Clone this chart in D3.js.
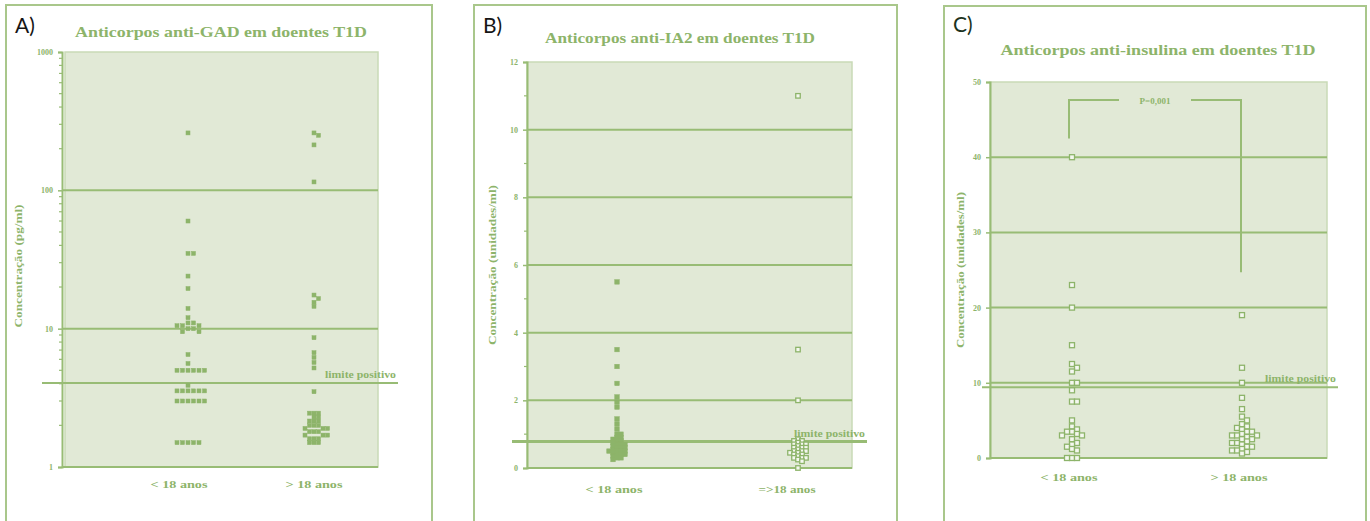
<!DOCTYPE html>
<html>
<head>
<meta charset="utf-8">
<script src="https://cdn.jsdelivr.net/npm/d3@7/dist/d3.min.js"></script>
<style>
  body { margin: 0; background: #fff; }
  svg text { font-family: "Liberation Serif", "DejaVu Serif", serif; font-weight: bold; fill: #8db46a; }
  svg text.letter { font-family: "Lato", "Open Sans", sans-serif; font-weight: normal; font-size: 21px; fill: #151515; }
</style>
</head>
<body>
<svg id="chart" width="1370" height="521"></svg>
<script>
// ---- values ----
const groups = ["< 18 anos", "> 18 anos"];
const groupsIA2 = ["< 18 anos", "=>18 anos"];

// A) anti-GAD (log scale)
const gadUnder18 = [260, 60, 35, 35, 24, 19.5, 14, 12, 11, 11, 10.5, 10.5, 10.5, 10, 10, 9.5, 9.5,
  6.5, 5.6, 5, 5, 5, 5, 5, 5, 3.9, 3.55, 3.55, 3.55, 3.55, 3.55, 3.55, 3.0, 3.0, 3.0, 3.0, 3.0, 3.0,
  1.5, 1.5, 1.5, 1.5, 1.5];
const gadOver18 = [260, 250, 213, 115, 17.5, 16.5, 15.5, 14.5, 8.6, 6.7, 6.2, 5.7, 5.2, 3.5,
  2.45, 2.45, 2.45, 2.3, 2.3, 2.15, 2.15, 2.15, 2.0, 2.0, 2.0, 1.9, 1.9, 1.9, 1.8, 1.8, 1.8,
  1.7, 1.7, 1.7, 1.6, 1.6, 1.6, 1.5, 1.5, 1.5];
const gadTicks = [1, 10, 100, 1000];
const gadLimit = 4.05;

// B) anti-IA2
const ia2Under18 = [5.5, 3.5, 3.0, 2.5, 2.1, 1.95, 1.8, 1.45, 1.3, 1.15, 1.0, 1.0, 0.9, 0.9, 0.85,
  0.8, 0.8, 0.75, 0.7, 0.7, 0.7, 0.65, 0.6, 0.6, 0.6, 0.55, 0.5, 0.5, 0.5, 0.5, 0.45, 0.4, 0.4,
  0.4, 0.35, 0.3, 0.3, 0.25];
const ia2Over18 = [11, 3.5, 2.0, 0.85, 0.8, 0.8, 0.75, 0.7, 0.7, 0.7, 0.65, 0.6, 0.6, 0.6, 0.55,
  0.5, 0.5, 0.5, 0.45, 0.45, 0.4, 0.4, 0.35, 0.3, 0.3, 0.3, 0.25, 0.2, 0];
const ia2Ticks = [0, 2, 4, 6, 8, 10, 12];
const ia2Limit = 0.78;

// C) anti-insulina
const insUnder18 = [40, 23, 20, 15, 12.5, 12, 11.5, 10, 10, 9, 7.5, 7.5, 5, 4.2, 3.8, 3.5, 3.5,
  3.2, 3, 3, 2.5, 2, 1.8, 1.5, 1.2, 1, 0, 0, 0];
const insOver18 = [19, 12, 10, 8, 6.5, 5.5, 5, 4.5, 4.2, 4, 3.8, 3.5, 3.5, 3.2, 3, 3, 3, 2.8,
  2.5, 2.5, 2.2, 2, 2, 1.8, 1.5, 1.5, 1.2, 1, 1, 0.8, 0.6];
const insTicks = [0, 10, 20, 30, 40, 50];
const insLimit = 9.4;
const insBracket = {top: 47.6, left: 42.5, right: 24.7, label: "P=0,001"};

// ---- styling ----
const green = "#8db46a";
const lineGreen = "#98bc75";
const frame = "#a9c78b";
const plotBg = "#e1e9d6";

const svg = d3.select("#chart");

// simple beeswarm: spread equal values sideways
function swarm(values, cx, y, step) {
  const placed = [];
  values.slice().sort((a, b) => b - a).forEach(v => {
    const py = y(v);
    for (let k = 0; k < 40; k++) {
      const off = k === 0 ? 0 : (k % 2 ? 1 : -1) * Math.ceil(k / 2) * step;
      const px = cx + off;
      if (!placed.some(p => Math.abs(p.x - px) < step - 0.1 && Math.abs(p.y - py) < step * 0.8)) {
        placed.push({x: px, y: py, v});
        break;
      }
    }
  });
  return placed;
}

function drawPanel(o) {
  const g = svg.append("g");
  const [yb, yt] = o.y.range();

  // panel frame
  g.append("rect")
    .attr("x", o.box[0]).attr("y", o.box[1])
    .attr("width", o.box[2]).attr("height", 560)
    .attr("fill", "none").attr("stroke", frame).attr("stroke-width", 2);

  g.append("text").attr("class", "letter")
    .attr("x", o.box[0] + 9).attr("y", o.letterY)
    .style("fill", o.letterColor || "#151515")
    .text(o.letter);

  g.append("text")
    .attr("x", o.title[0]).attr("y", o.title[1])
    .attr("text-anchor", "middle")
    .attr("font-size", 15)
    .attr("textLength", o.title[2]).attr("lengthAdjust", "spacingAndGlyphs")
    .text(o.titleText);

  // plot area
  g.append("rect")
    .attr("x", o.x0).attr("y", yt)
    .attr("width", o.x1 - o.x0).attr("height", yb - yt)
    .attr("fill", plotBg).attr("stroke", "#c9dab7").attr("stroke-width", 1.5);

  // grid lines
  g.selectAll(".grid").data(o.grid).join("line")
    .attr("x1", o.axisX).attr("x2", o.x1)
    .attr("y1", d => o.y(d)).attr("y2", d => o.y(d))
    .attr("stroke", lineGreen).attr("stroke-width", 2);

  // bottom axis line
  g.append("line")
    .attr("x1", o.axisX).attr("x2", o.x1)
    .attr("y1", yb).attr("y2", yb)
    .attr("stroke", lineGreen).attr("stroke-width", 2);

  // y axis
  const axis = g.append("g")
    .attr("transform", `translate(${o.axisX},0)`)
    .call(d3.axisLeft(o.y).tickValues(o.ticks).tickFormat(o.fmt || d3.format("d"))
      .tickSize(4).tickPadding(5));
  axis.select(".domain").attr("stroke", lineGreen).attr("stroke-width", 2);
  axis.selectAll(".tick line").attr("stroke", lineGreen).attr("stroke-width", 1.5);
  axis.selectAll(".tick text").attr("font-size", 8).attr("font-family", null);

  if (o.minor) {
    g.selectAll(".minor").data(o.minor).join("line")
      .attr("x1", o.axisX - 3).attr("x2", o.axisX)
      .attr("y1", d => o.y(d)).attr("y2", d => o.y(d))
      .attr("stroke", lineGreen).attr("stroke-width", 1.2);
  }

  // y title
  g.append("text")
    .attr("transform", `translate(${o.yTitle[0]},${o.yTitle[1]}) rotate(-90)`)
    .attr("text-anchor", "middle")
    .attr("font-size", 10)
    .attr("textLength", o.yTitle[2]).attr("lengthAdjust", "spacingAndGlyphs")
    .text(o.yTitleText);

  // limit line
  g.append("line")
    .attr("x1", o.limitX[0]).attr("x2", o.limitX[1])
    .attr("y1", o.y(o.limit)).attr("y2", o.y(o.limit))
    .attr("stroke", lineGreen).attr("stroke-width", o.limitWidth);
  g.append("text")
    .attr("x", o.limitX[1] - 73).attr("y", o.y(o.limit) - 5)
    .attr("font-size", 10)
    .attr("textLength", 71).attr("lengthAdjust", "spacingAndGlyphs")
    .text("limite positivo");

  // categories
  o.cats.forEach((c, i) => {
    g.append("text")
      .attr("x", o.x(c) + (o.catDx ? o.catDx[i] : 0)).attr("y", o.catY)
      .attr("text-anchor", "middle")
      .attr("font-size", 11)
      .attr("textLength", 57).attr("lengthAdjust", "spacingAndGlyphs")
      .text(c);
  });

  // points
  o.series.forEach((vals, i) => {
    const pts = swarm(vals, o.x(o.cats[i]), o.y, o.step[i]);
    const hollow = o.hollow[i];
    g.append("g").selectAll("rect").data(pts).join("rect")
      .attr("x", d => d.x - o.ms / 2).attr("y", d => d.y - o.ms / 2)
      .attr("width", o.ms).attr("height", o.ms)
      .attr("fill", hollow ? "#f4f7ef" : green)
      .attr("stroke", green).attr("stroke-width", hollow ? 1.3 : 0.5);
  });

  return g;
}

// A) anti-GAD
const yA = d3.scaleLog().domain([1, 1000]).range([467, 52]);
const minorA = [];
[1, 10, 100].forEach(dec => d3.range(2, 10).forEach(m => minorA.push(dec * m)));
drawPanel({
  box: [6, 5, 426], letter: "A)", letterY: 33,
  title: [221, 37, 292], titleText: "Anticorpos anti-GAD em doentes T1D",
  x0: 65, x1: 378, axisX: 62, y: yA,
  ticks: gadTicks, minor: minorA, fmt: d3.format("d"), grid: [10, 100],
  yTitle: [22, 266, 123], yTitleText: "Concentração (pg/ml)",
  limit: gadLimit, limitX: [42, 398], limitWidth: 2,
  cats: groups, x: d3.scalePoint().domain(groups).range([188, 314]), catY: 488, catDx: [-9, 0],
  series: [gadUnder18, gadOver18], hollow: [false, false], step: [5.5, 4.5], ms: 4
});

// B) anti-IA2
const yB = d3.scaleLinear().domain([0, 12]).range([468, 62]);
drawPanel({
  box: [474, 5, 423], letter: "B)", letterY: 33,
  title: [680, 43, 270], titleText: "Anticorpos anti-IA2 em doentes T1D",
  x0: 527, x1: 852, axisX: 527, y: yB,
  ticks: ia2Ticks, minor: [1, 3, 5, 7, 9, 11], grid: [2, 4, 6, 8, 10],
  yTitle: [496, 265, 160], yTitleText: "Concentração (unidades/ml)",
  limit: ia2Limit, limitX: [512, 867], limitWidth: 3,
  cats: groupsIA2, x: d3.scalePoint().domain(groupsIA2).range([617, 798]), catY: 493, catDx: [-3, -11],
  series: [ia2Under18, ia2Over18], hollow: [false, true], step: [4, 4], ms: 4.5
});

// C) anti-insulina
const yC = d3.scaleLinear().domain([0, 50]).range([458, 82]);
const gC = drawPanel({
  box: [944, 6, 422], letter: "C)", letterY: 32, letterColor: "#1c3320",
  title: [1158, 55, 315], titleText: "Anticorpos anti-insulina em doentes T1D",
  x0: 990, x1: 1327, axisX: 990, y: yC,
  ticks: insTicks, grid: [10, 20, 30, 40],
  yTitle: [964, 270, 156], yTitleText: "Concentração (unidades/ml)",
  limit: insLimit, limitX: [982, 1338], limitWidth: 2,
  cats: groups, x: d3.scalePoint().domain(groups).range([1072, 1242]), catY: 481, catDx: [-3, -3],
  series: [insUnder18, insOver18], hollow: [true, true], step: [5, 5], ms: 5
});

// significance bracket
const xC = d3.scalePoint().domain(groups).range([1072, 1242]);
const bl = xC(groups[0]) - 3, br = xC(groups[1]) - 1, bm = (bl + br) / 2;
gC.append("path")
  .attr("d", `M${bl},${yC(insBracket.left)}V${yC(insBracket.top)}H${bm - 36}`)
  .attr("fill", "none").attr("stroke", lineGreen).attr("stroke-width", 2);
gC.append("path")
  .attr("d", `M${bm + 36},${yC(insBracket.top)}H${br}V${yC(insBracket.right)}`)
  .attr("fill", "none").attr("stroke", lineGreen).attr("stroke-width", 2);
gC.append("text")
  .attr("x", bm).attr("y", yC(insBracket.top) + 4)
  .attr("text-anchor", "middle").attr("font-size", 9)
  .text(insBracket.label);
</script>
</body>
</html>
